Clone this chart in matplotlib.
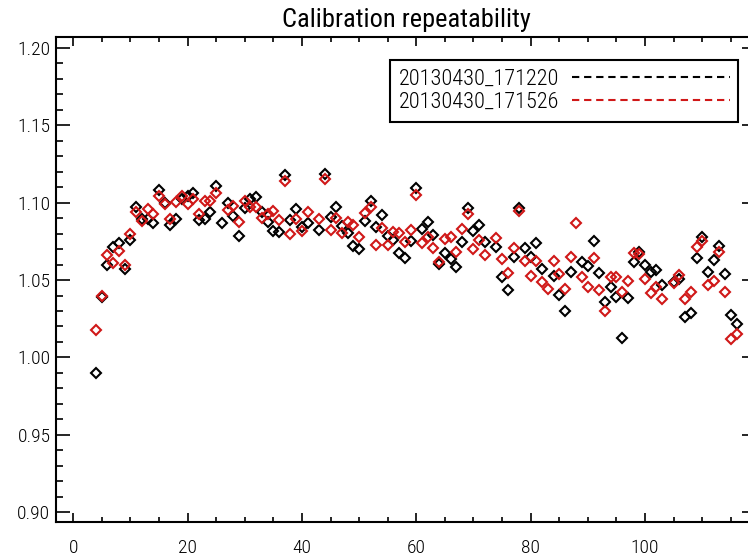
import numpy as np
import matplotlib
matplotlib.use("Agg")
import matplotlib.pyplot as plt
from matplotlib.ticker import MultipleLocator, FormatStrFormatter
from matplotlib.lines import Line2D
from matplotlib import font_manager as fm

_avail = set(f.name for f in fm.fontManager.ttflist)
_family = 'DejaVu Sans'
for cand in ['Roboto Condensed', 'Barlow Condensed', 'Fira Sans Condensed',
             'IBM Plex Sans Condensed', 'Archivo Narrow', 'Liberation Sans Narrow']:
    if cand in _avail:
        _family = cand
        break
plt.rcParams['font.family'] = [_family, 'DejaVu Sans']
plt.rcParams['font.weight'] = 'light'

title = "Calibration repeatability"
labels = ["20130430_171220", "20130430_171526"]
colors = ["#000000", "#d01818"]

nan = np.nan
x_idx = [4, 5, 6, 7, 8, 9, 10, 11, 12, 13, 14, 15, 16, 17, 18, 19, 20, 21, 22, 23,
         24, 25, 26, 27, 28, 29, 30, 31, 32, 33, 34, 35, 36, 37, 38, 39, 40, 41, 43,
         44, 45, 46, 47, 48, 49, 50, 51, 52, 53, 54, 55, 56, 57, 58, 59, 60, 61, 62,
         63, 64, 65, 66, 67, 68, 69, 70, 71, 72, 74, 75, 76, 77, 78, 79, 80, 81, 82,
         83, 84, 85, 86, 87, 88, 89, 90, 91, 92, 93, 94, 95, 96, 97, 98, 99, 100, 101,
         102, 103, 105, 106, 107, 108, 109, 110, 111, 112, 113, 114, 115, 116]

run1 = [0.990, 1.039, 1.060, 1.0716, 1.0738, 1.057, 1.0759, 1.0974, 1.0893, 1.0893,
        1.0871, 1.1082, 1.1000, 1.0856, 1.0893, 1.1022, 1.1043, 1.1061, 1.0888, 1.0893,
        1.0938, 1.1110, 1.0867, 1.0996, 1.0916, 1.0787, 1.0964, 1.1024, 1.1039, 1.0938,
        1.0877, 1.0819, 1.0809, 1.1179, 1.0888, 1.0957, 1.0843, 1.0871, 1.0824,
        1.1184, 1.0910, 1.0974, 1.0851, 1.0806, 1.0720, 1.0699, 1.0884, 1.1013, 1.0845,
        1.0920, 1.0782, 1.0759, 1.0677, 1.0640, 1.0752, 1.1097, 1.0828, 1.0877,
        1.0791, 1.0604, 1.0677, 1.0636, 1.0587, 1.0748, 1.0964, 1.0819, 1.0856, 1.0748,
        1.0712, 1.0522, 1.0436, 1.0647, 1.0968, 1.0705, 1.0651, 1.0738, 1.0573,
        nan, 1.0528, 1.0403, 1.0302, 1.0555, nan, 1.0615, 1.0591, 1.0755, 1.0544,
        1.0356, 1.0457, 1.0388, 1.0123, 1.0382, 1.0619, 1.0683, 1.0597, 1.0555,
        1.0565, 1.0468, 1.0486, 1.0507, 1.0259, 1.0285, 1.0641, 1.0776, 1.0555, 1.0630,
        1.0720, 1.0539, 1.0274, 1.0214]

run2 = [1.018, 1.040, 1.066, 1.0612, 1.069, 1.060, 1.0796, 1.0942, 1.0882, 1.0957,
        1.0927, 1.1043, 1.0990, 1.0893, 1.1005, 1.1043, 1.0990, 1.1022, 1.0927, 1.1011,
        1.1013, 1.1061, nan, 1.0950, 1.0979, 1.0873, 1.1011, 1.0974, 1.0970, 1.0899,
        1.0927, 1.0948, 1.0888, 1.1142, 1.0796, 1.0893, 1.0816, 1.0938, 1.0895,
        1.1151, 1.0824, 1.0899, 1.0802, 1.0873, 1.0853, 1.0780, 1.0931, 1.0970, 1.0727,
        1.0835, 1.0727, 1.0813, 1.0802, 1.0744, 1.0824, 1.1050, 1.0738, 1.0780,
        1.0705, 1.0619, 1.0763, 1.0776, 1.0683, 1.0828, 1.0925, 1.0699, 1.0759, 1.0662,
        1.0769, 1.0636, 1.0544, 1.0705, 1.0946, 1.0625, 1.0526, 1.0625, 1.0490,
        1.0441, 1.0625, 1.0539, 1.0442, 1.0651, 1.0867, 1.0522, 1.0457, 1.0644, 1.0436,
        1.0300, 1.0522, 1.0518, 1.0421, 1.0496, 1.0677, 1.0668, 1.0507, 1.0414,
        1.0453, 1.0378, 1.0479, 1.0533, 1.0378, 1.0425, 1.0716, 1.0755, 1.0468, 1.0496,
        1.0683, 1.0421, 1.0119, 1.0149]

W, H = 748, 557
fig = plt.figure(figsize=(W / 100, H / 100), dpi=100)
ax = fig.add_axes([56 / W, (H - 522) / H, 700 / W, 485 / H])

for ys, c in zip([run1, run2], colors):
    ax.plot(x_idx, ys, linestyle='none', marker='D', markersize=4.6,
            markerfacecolor='none', markeredgecolor=c, markeredgewidth=1.5)

ax.set_xlim(-3, 119.4)
ax.set_ylim(0.8936, 1.2071)
ax.xaxis.set_major_locator(MultipleLocator(20))
ax.xaxis.set_minor_locator(MultipleLocator(5))
ax.yaxis.set_major_locator(MultipleLocator(0.05))
ax.yaxis.set_minor_locator(MultipleLocator(0.01))
ax.yaxis.set_major_formatter(FormatStrFormatter('%.2f'))

ax.tick_params(which='both', direction='in', top=True, right=True, width=1.2,
               labelsize=14, colors='black')
ax.tick_params(axis='x', which='major', length=6.5, pad=12)
ax.tick_params(axis='x', which='minor', length=3.3)
ax.tick_params(axis='y', which='major', length=10, pad=4)
ax.tick_params(axis='y', which='minor', length=5)
for s in ax.spines.values():
    s.set_linewidth(1.5)

ax.set_title(title, fontsize=19, pad=7)

handles = [Line2D([], [], color=c, linestyle=(0, (3.5, 2.3)), linewidth=1.5) for c in colors]
leg = ax.legend(handles, labels, loc='upper left',
                bbox_to_anchor=(390 / W, 1 - 60 / H), bbox_transform=fig.transFigure,
                borderaxespad=0, markerfirst=False, fontsize=16, handlelength=7.1,
                handletextpad=0.6, borderpad=0.38, labelspacing=0.12,
                fancybox=False, framealpha=1, edgecolor='black')
leg.get_frame().set_linewidth(1.5)

fig.savefig("out.png", dpi=100)
